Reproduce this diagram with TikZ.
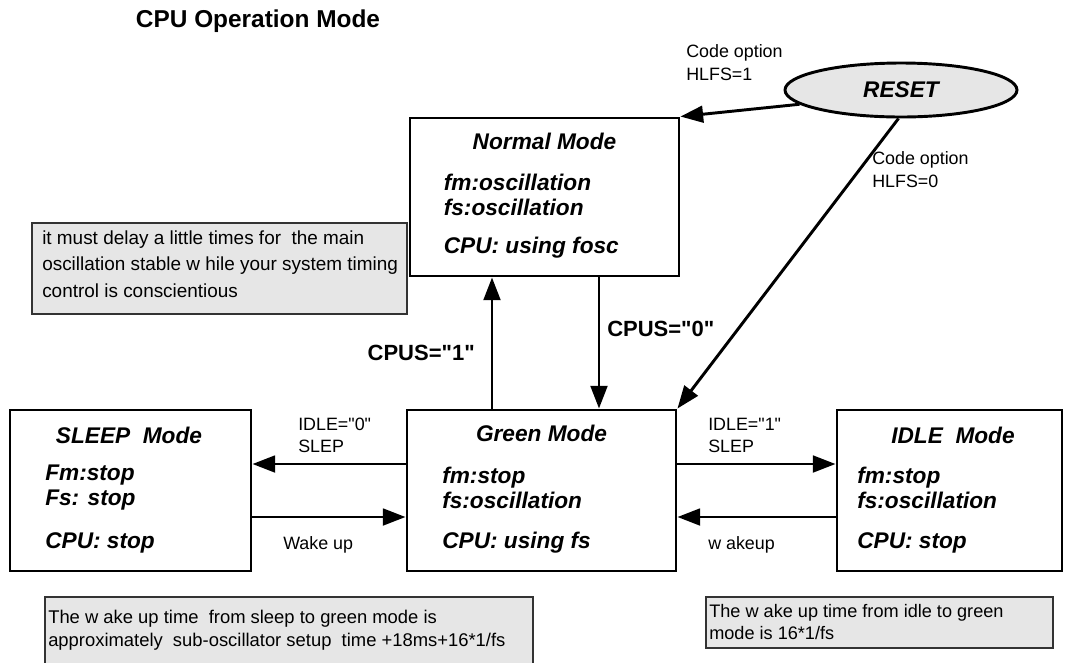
\documentclass[tikz,border=0pt]{standalone}
\usepackage{fontspec}
\setmainfont{Liberation Sans}
\usetikzlibrary{arrows.meta, positioning, shapes.geometric, calc, fit}

\definecolor{notegray}{RGB}{230,230,230}
\newcommand{\qt}{\textquotedbl}

\tikzset{
  modebox/.style={draw, line width=2.2pt, inner sep=0pt},
  notebox/.style={draw=black!80, line width=1.1pt, fill=notegray, inner sep=0pt},
  modetitle/.style={font=\fontsize{17}{19}\selectfont\bfseries\itshape, inner sep=0pt},
  modebody/.style={font=\fontsize{17}{18.75}\selectfont\bfseries\itshape, align=left, anchor=west, inner sep=0pt},
  smalllabel/.style={font=\fontsize{13.4}{17}\selectfont, align=left, anchor=west, inner sep=0pt},
  cpuslabel/.style={font=\fontsize{16.5}{19}\selectfont\bfseries, inner sep=0pt},
  arr/.style={line width=2.2pt, -{Triangle[length=17pt, width=12.5pt]}}
}

\begin{document}
\begin{tikzpicture}[x=0.75pt, y=-0.75pt]
\useasboundingbox (0,0) rectangle (1065,662);

\node[font=\fontsize{18.3}{21}\selectfont\bfseries] (title) at (258,21) {CPU Operation Mode};

% the four modes
\node[modebox, fit={(410,118) (679,276)}] (normal) {};
\node[modebox, fit={(10,410) (251,571)}] (sleep) {};
\node[modebox, fit={(407,410) (676,571)}] (green) {};
\node[modebox, fit={(837,410) (1062,571)}] (idle) {};

\node[modetitle] (normalhead) at ($(normal.north)+(0,25)$) {Normal Mode};
\node[modebody] (normalosc) at ($(normal.north west)+(35,78)$) {fm:oscillation\\fs:oscillation};
\node[modebody] (normalcpu) at ($(normal.north west)+(35,131)$) {CPU: using fosc};

\node[modetitle] (sleephead) at (129,435) {SLEEP\ \ Mode};
\node[modebody] (sleeposc) at (45,488) {Fm:stop\\Fs: stop};
\node[modebody] (sleepcpu) at (45,543) {CPU: stop};

\node[modetitle] (greenhead) at ($(green.north)+(0,25)$) {Green Mode};
\node[modebody] (greenosc) at (442,488) {fm:stop\\fs:oscillation};
\node[modebody] (greencpu) at (442,543) {CPU: using fs};

\node[modetitle] (idlehead) at (953,435) {IDLE\ \ Mode};
\node[modebody] (idleosc) at (857,488) {fm:stop\\fs:oscillation};
\node[modebody] (idlecpu) at (857,543) {CPU: stop};

% reset
\node[ellipse, draw, line width=2.2pt, fill=notegray, minimum width=174pt, minimum height=40.5pt,
      font=\fontsize{17}{19}\selectfont\bfseries\itshape] (reset) at (901,90) {RESET};
\node[smalllabel, font=\fontsize{13.4}{17.25}\selectfont] (hlfsone) at (686,63) {Code option\\HLFS=1};
\node[smalllabel, font=\fontsize{13.4}{17.25}\selectfont] (hlfszero) at (872,170) {Code option\\HLFS=0};
\draw[arr] (reset.188) -- (normal.north east);
\draw[arr] (reset.265) -- (green.north east);

% normal <-> green
\coordinate (upx) at (492,0);
\coordinate (downx) at (599,0);
\draw[arr] (green.north -| upx) -- (normal.south -| upx);
\draw[arr] (normal.south -| downx) -- (green.north -| downx);
\node[cpuslabel, anchor=east] (cpusone) at (475,353) {CPUS=\qt1\qt};
\node[cpuslabel, anchor=west] (cpuszero) at (607,329) {CPUS=\qt0\qt};

% green <-> sleep, green <-> idle
\coordinate (slepy) at (0,464);
\coordinate (wakey) at (0,517);
\draw[arr] (green.west |- slepy) -- (sleep.east |- slepy);
\draw[arr] (sleep.east |- wakey) -- (green.west |- wakey);
\draw[arr] (green.east |- slepy) -- (idle.west |- slepy);
\draw[arr] (idle.west |- wakey) -- (green.east |- wakey);
\node[smalllabel, font=\fontsize{13.4}{16.5}\selectfont] (idlezero) at (298,435) {IDLE=\qt0\qt\\SLEP};
\node[smalllabel] (wakesleep) at (283,545) {Wake up};
\node[smalllabel, font=\fontsize{13.4}{16.5}\selectfont] (idleone) at (708,435) {IDLE=\qt1\qt\\SLEP};
\node[smalllabel] (wakeidle) at (708,545) {w akeup};

% notes
\node[notebox, fit={(32,223) (407,314)}] (delaynote) {};
\node[smalllabel, font=\fontsize{14.2}{19.9}\selectfont] (delaytext) at (42,264)
  {it must delay a little times for\ \ the main\\oscillation stable w hile your system timing\\control is conscientious};
\node[notebox, fit={(45,597) (533,668)}] (sleepnote) {};
\node[smalllabel, font=\fontsize{13.8}{17.25}\selectfont] (sleeptext) at (48,630)
  {The w ake up time\ \ from sleep to green mode is\\approximately\ \ sub-oscillator setup\ \ time +18ms+16*1/fs};
\node[notebox, fit={(706,597) (1053,648)}] (idlenote) {};
\node[smalllabel, font=\fontsize{13.6}{16.5}\selectfont] (idletext) at (709,622)
  {The w ake up time from idle to green\\mode is 16*1/fs};
\end{tikzpicture}
\end{document}
